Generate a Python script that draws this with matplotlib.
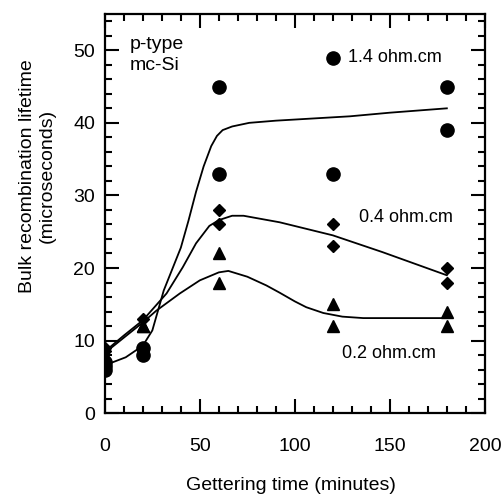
import matplotlib
matplotlib.use("Agg")
import matplotlib.pyplot as plt
from matplotlib.ticker import MultipleLocator

plt.rcParams['font.family'] = ['Liberation Sans', 'DejaVu Sans']

# measured points (gettering time in minutes, lifetime in microseconds)
x_14 = [0, 0, 0, 20, 20, 60, 60, 120, 180, 180]
y_14 = [7, 6.5, 6, 9, 8, 45, 33, 33, 45, 39]

x_04 = [0, 0, 20, 60, 60, 120, 120, 180, 180]
y_04 = [9, 8.5, 13, 28, 26, 26, 23, 20, 18]

x_02 = [0, 0, 20, 20, 60, 60, 120, 120, 180, 180]
y_02 = [8, 7.5, 12, 12, 22, 18, 15, 12, 14, 12]

# guide-to-the-eye curves
cx_14 = [0, 3, 11, 20, 25, 31, 40, 44, 48, 52, 56, 59, 62, 67, 76, 90, 129, 150, 180]
cy_14 = [6.6, 6.9, 7.7, 9.3, 11.4, 16.9, 22.8, 26.5, 30.5, 34.0, 36.8, 38.2, 39.0, 39.5, 40.0, 40.3, 40.9, 41.4, 42.0]

cx_04 = [0, 10, 20, 32.5, 41, 48, 55, 60, 67, 73, 92, 120, 146, 180]
cy_04 = [8.5, 10.7, 12.8, 16.5, 20.1, 23.4, 25.8, 26.6, 27.2, 27.2, 26.3, 24.5, 22.2, 19.0]

cx_02 = [0, 10, 20, 27, 39.5, 50, 60, 65, 75, 85, 92, 100, 106, 115, 125, 136, 178]
cy_02 = [8.3, 10.4, 12.5, 14.1, 16.5, 18.3, 19.4, 19.6, 18.8, 17.6, 16.6, 15.4, 14.6, 13.8, 13.3, 13.1, 13.1]

fig = plt.figure(figsize=(5.04, 4.99), dpi=100)
ax = fig.add_axes([0.208, 0.172, 0.754, 0.800])

ax.plot(cx_14, cy_14, 'k-', lw=1.3)
ax.plot(cx_04, cy_04, 'k-', lw=1.3)
ax.plot(cx_02, cy_02, 'k-', lw=1.3)

ax.plot(x_14, y_14, 'ko', ms=9.5, ls='none')
ax.plot(x_04, y_04, 'kD', ms=6.5, ls='none')
ax.plot(x_02, y_02, 'k^', ms=9, ls='none')

# legend-like entry for the circles
ax.plot([120], [49], 'ko', ms=9.5)
ax.text(128, 49, '1.4 ohm.cm', fontsize=13, va='center', ha='left')
ax.text(134, 27, '0.4 ohm.cm', fontsize=13, va='center', ha='left')
ax.text(125, 8.2, '0.2 ohm.cm', fontsize=13, va='center', ha='left')
ax.text(13, 52, 'p-type\nmc-Si', fontsize=14, va='top', ha='left', linespacing=1.3)

ax.set_xlim(0, 200)
ax.set_ylim(0, 55)
ax.xaxis.set_major_locator(MultipleLocator(50))
ax.xaxis.set_minor_locator(MultipleLocator(10))
ax.yaxis.set_major_locator(MultipleLocator(10))
ax.yaxis.set_minor_locator(MultipleLocator(2))

ax.tick_params(which='both', direction='in', top=True, right=True, width=1.5, labelsize=14)
ax.tick_params(which='major', length=10)
ax.tick_params(which='minor', length=5)
ax.tick_params(axis='x', pad=18)
ax.tick_params(axis='y', pad=7)
for s in ax.spines.values():
    s.set_linewidth(1.6)

ax.set_xlabel('Gettering time (minutes)', fontsize=14)
ax.xaxis.set_label_coords(0.49, -0.16)
ax.set_ylabel('Bulk recombination lifetime\n(microseconds)', fontsize=14, linespacing=1.2)
ax.yaxis.set_label_coords(-0.13, 0.594)

fig.savefig('out.png', dpi=100)
